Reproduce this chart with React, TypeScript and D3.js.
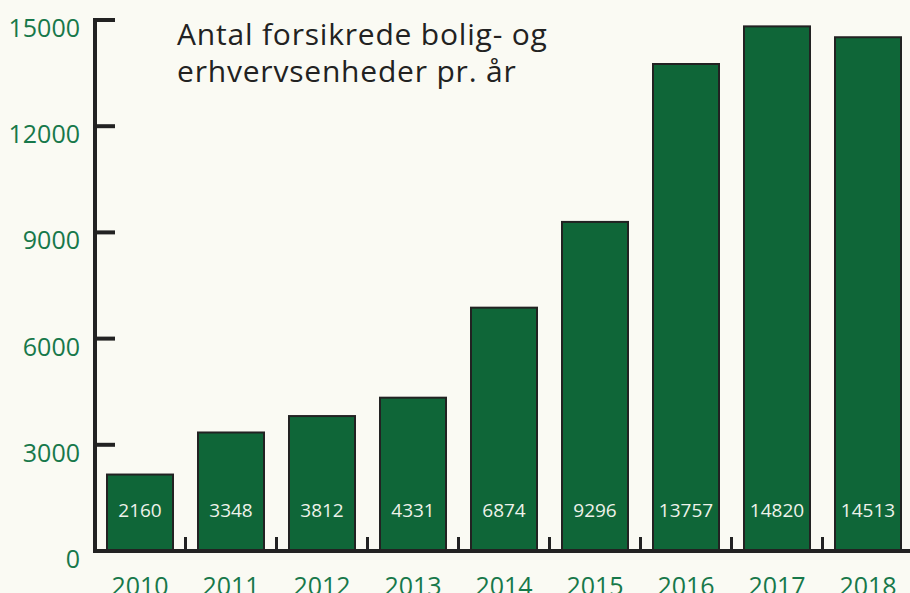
import React, { useEffect, useRef } from "react";
import * as d3 from "d3";

const years = ["2010", "2011", "2012", "2013", "2014", "2015", "2016", "2017", "2018"];
const units = [2160, 3348, 3812, 4331, 6874, 9296, 13757, 14820, 14513];
const yTicks = [0, 3000, 6000, 9000, 12000, 15000];
const titleLines = ["Antal forsikrede bolig- og", "erhvervsenheder pr. år"];

const W = 910;
const H = 593;
const FONT = "'Open Sans', 'Noto Sans', sans-serif";

export default function App() {
  const ref = useRef<SVGSVGElement>(null);

  useEffect(() => {
    const svg = d3.select(ref.current);
    svg.selectAll("*").remove();

    const y = d3.scaleLinear().domain([0, 15000]).range([551, 20]);
    const x = d3
      .scaleBand()
      .domain(years)
      .range([94.5, 94.5 + 9 * 91])
      .paddingInner(25 / 91)
      .paddingOuter(12.5 / 91);

    svg.append("rect").attr("width", W).attr("height", H).attr("fill", "#fafaf3");

    // bars
    const bars = svg.append("g");
    bars
      .selectAll("rect")
      .data(years)
      .join("rect")
      .attr("x", (d) => x(d)!)
      .attr("y", (d, i) => y(units[i]))
      .attr("width", x.bandwidth())
      .attr("height", (d, i) => y(0) - y(units[i]))
      .attr("fill", "#0f6638")
      .attr("stroke", "#222")
      .attr("stroke-width", 2);

    bars
      .selectAll("text")
      .data(years)
      .join("text")
      .attr("x", (d) => x(d)! + x.bandwidth() / 2)
      .attr("y", 517)
      .attr("text-anchor", "middle")
      .attr("font-family", FONT)
      .attr("font-size", 19)
      .attr("fill", "#eef2ea")
      .text((d, i) => units[i]);

    // y axis
    const ax = svg.append("g");
    ax.append("line")
      .attr("x1", 95).attr("x2", 95)
      .attr("y1", 18).attr("y2", 553)
      .attr("stroke", "#222").attr("stroke-width", 4);
    ax.selectAll("line.tick")
      .data(yTicks.filter((t) => t > 0))
      .join("line")
      .attr("class", "tick")
      .attr("x1", 95).attr("x2", 115)
      .attr("y1", (d) => y(d)).attr("y2", (d) => y(d))
      .attr("stroke", "#222").attr("stroke-width", 4);
    ax.selectAll("text")
      .data(yTicks)
      .join("text")
      .attr("x", 80)
      .attr("y", (d) => y(d) + 17)
      .attr("text-anchor", "end")
      .attr("font-family", FONT)
      .attr("font-size", 25)
      .attr("fill", "#17784a")
      .text((d) => d);

    // x axis
    svg.append("line")
      .attr("x1", 93).attr("x2", W)
      .attr("y1", 551).attr("y2", 551)
      .attr("stroke", "#222").attr("stroke-width", 4);
    svg.selectAll("line.xtick")
      .data(years)
      .join("line")
      .attr("class", "xtick")
      .attr("x1", (d) => x(d)! + x.bandwidth() + 12.5)
      .attr("x2", (d) => x(d)! + x.bandwidth() + 12.5)
      .attr("y1", 551).attr("y2", 537)
      .attr("stroke", "#222").attr("stroke-width", 3);
    // year labels sit partly below the bottom edge, as in the original
    svg.append("g")
      .selectAll("text")
      .data(years)
      .join("text")
      .attr("x", (d) => x(d)! + x.bandwidth() / 2)
      .attr("y", 595)
      .attr("text-anchor", "middle")
      .attr("font-family", FONT)
      .attr("font-size", 25)
      .attr("fill", "#17784a")
      .text((d) => d);

    // title
    svg.append("g")
      .selectAll("text")
      .data(titleLines)
      .join("text")
      .attr("x", 177)
      .attr("y", (d, i) => 45 + i * 36.5)
      .attr("font-family", FONT)
      .attr("font-size", 30)
      .attr("letter-spacing", 0.8)
      .attr("fill", "#222")
      .text((d) => d);
  }, []);

  return (
    <svg ref={ref} width={W} height={H} style={{ position: "absolute", left: 0, top: 0 }} />
  );
}
